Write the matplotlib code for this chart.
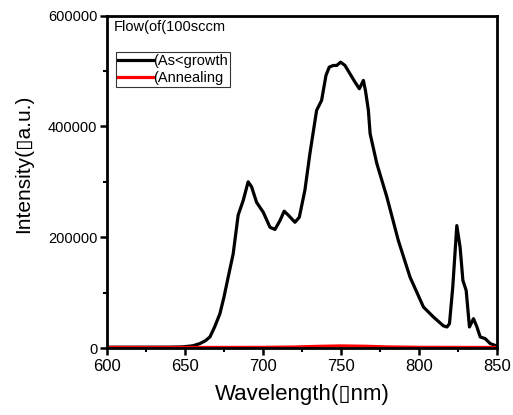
import matplotlib
matplotlib.use("Agg")
import matplotlib.pyplot as plt
from matplotlib.ticker import MultipleLocator

plt.rcParams['font.family'] = ['Liberation Sans', 'DejaVu Sans']

# PL spectrum, as-grown sample
wl_grown = [600, 620, 640, 648, 655, 659.5, 663, 666, 669, 672.4, 675, 677.7, 680.9,
            684.1, 687.3, 690.5, 692.7, 695.9, 700.2, 704.5, 707.7, 710.9, 713.6,
            716.2, 720.5, 723.3, 726.9, 730.1, 734.4, 737.6, 740.4, 742.5, 745.1,
            747.3, 749.8, 752.6, 755.8, 759, 761.8, 764.4, 765.7, 767.6, 768.7,
            773, 779.4, 786.8, 794.3, 802.9, 809.3, 815.7, 818, 819.6, 821.7,
            824.3, 826.4, 828.2, 830.3, 832.4, 835, 837.2, 839.3, 842.5, 845.7, 850]
int_grown = [1500, 1500, 1600, 2000, 4000, 8000, 13000, 20000, 38000, 62000, 92000,
             128000, 170000, 240000, 266000, 300000, 291000, 263000, 245000, 218000,
             214000, 230000, 247000, 240000, 227000, 236000, 285000, 351000, 429000,
             447000, 492000, 507000, 510000, 510000, 516000, 510000, 495000, 480000,
             468000, 483000, 465000, 429000, 387000, 333000, 273000, 194000, 128000,
             74000, 56000, 40000, 38000, 44000, 110000, 221000, 182000, 122000,
             104000, 38000, 53000, 38000, 20000, 17000, 8000, 3500]

# PL spectrum, annealed sample
wl_anneal = [600, 650, 700, 720, 735, 750, 765, 780, 800, 850]
int_anneal = [1000, 1000, 1200, 1800, 3000, 3800, 3200, 2000, 1300, 1000]

x_ticks = [600, 650, 700, 750, 800, 850]
y_ticks = [0, 200000, 400000, 600000]

fig = plt.figure(figsize=(5.13, 4.15), dpi=100)
ax = fig.add_axes([0.2086, 0.1614, 0.760, 0.801])

ax.plot(wl_grown, int_grown, color='black', lw=2.3, label='(As<growth')
ax.plot(wl_anneal, int_anneal, color='#ff0000', lw=2.3, label='(Annealing')

ax.set_xlim(600, 850)
ax.set_ylim(0, 600000)
ax.set_xticks(x_ticks)
ax.set_yticks(y_ticks)
ax.xaxis.set_minor_locator(MultipleLocator(25))
ax.yaxis.set_minor_locator(MultipleLocator(100000))
ax.tick_params(which='major', direction='out', length=5, width=1.8)
ax.tick_params(which='minor', direction='out', length=3, width=1.5)
ax.tick_params(axis='x', labelsize=12, pad=3)
ax.tick_params(axis='y', labelsize=10.5, pad=2)
for s in ax.spines.values():
    s.set_linewidth(2)

ax.set_xlabel('Wavelength(\u25afnm)', fontsize=16, labelpad=7)
ax.set_ylabel('Intensity(\u25afa.u.)', fontsize=15)
ax.yaxis.set_label_coords(-0.19, 0.553)

ax.text(0.017, 0.965, 'Flow(of(100sccm', transform=ax.transAxes,
        fontsize=10.5, va='center', ha='left')

leg = ax.legend(loc='upper left', bbox_to_anchor=(0.023, 0.892), fontsize=10.5,
                frameon=True, fancybox=False, borderpad=0.15, handlelength=2.4,
                handletextpad=0.0, labelspacing=0.2, borderaxespad=0)
leg.get_frame().set_edgecolor('black')
leg.get_frame().set_linewidth(0.8)

fig.savefig('out.png', dpi=100)
